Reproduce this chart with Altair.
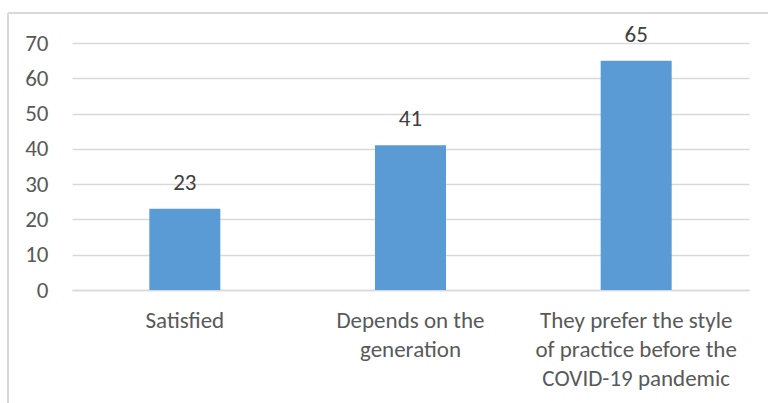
import altair as alt
import pandas as pd

# Survey responses per answer
answers = [
    "Satisfied",
    "Depends on the|generation",
    "They prefer the style|of practice before the|COVID-19 pandemic",
]
counts = [23, 41, 65]
y_ticks = [0, 10, 20, 30, 40, 50, 60, 70]

df = pd.DataFrame({"answer": answers, "count": counts})

FONT = "Calibri, Carlito, Lato, sans-serif"
TEXT = "#595959"
GRID = "#d9d9d9"
BAR = "#5b9bd5"
FS = 23

x = alt.X(
    "answer:N",
    sort=None,
    title=None,
    scale=alt.Scale(paddingInner=0, paddingOuter=0),
    axis=alt.Axis(
        labelAngle=0,
        labelExpr="split(datum.label, '|')",
        labelFont=FONT,
        labelFontSize=FS,
        labelColor=TEXT,
        labelLineHeight=29,
        labelPadding=19,
        labelLimit=400,
        ticks=False,
        domainColor=GRID,
        domainWidth=1.5,
        grid=False,
    ),
)
y = alt.Y(
    "count:Q",
    title=None,
    scale=alt.Scale(domain=[0, 70], nice=False),
    axis=alt.Axis(
        values=y_ticks,
        labelFont=FONT,
        labelFontSize=FS,
        labelColor=TEXT,
        labelPadding=24,
        ticks=False,
        domain=False,
        gridColor=GRID,
        gridWidth=1.5,
    ),
)

bars = alt.Chart(df).mark_bar(color=BAR, size=71).encode(x=x, y=y)
labels = alt.Chart(df).mark_text(
    dy=-14, baseline="bottom", font=FONT, fontSize=FS, color="#404040"
).encode(x=x, y=y, text="count:Q")

# Outer chart frame (top and left edges)
frame_top = alt.Chart(df).mark_rule(color=GRID, strokeWidth=1.5).encode(
    x=alt.value(-64), x2=alt.value(720), y=alt.value(-30)
)
frame_left = alt.Chart(df).mark_rule(color=GRID, strokeWidth=1.5).encode(
    x=alt.value(-64), y=alt.value(-30), y2=alt.value(400)
)

chart = (
    alt.layer(frame_top, frame_left, bars, labels)
    .properties(
        width=677,
        height=247,
        padding={"left": 72, "top": 43, "right": 19, "bottom": 113},
        autosize=alt.AutoSizeParams(type="none"),
        background="white",
    )
    .configure_view(stroke=None)
)

chart.save("out.html", embed_options={"renderer": "svg", "actions": False})
